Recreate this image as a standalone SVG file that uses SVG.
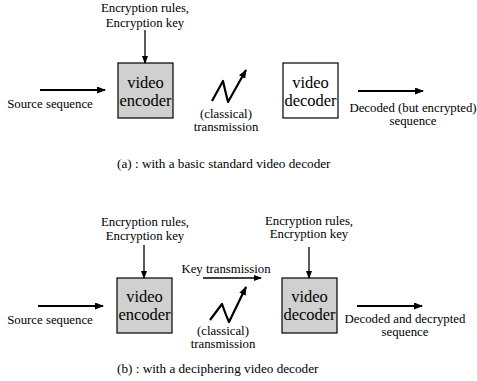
<svg xmlns="http://www.w3.org/2000/svg" width="477" height="381" viewBox="0 0 477 381" font-family="'Liberation Serif', 'Times New Roman', serif">
<style>
text{font-family:"Liberation Serif","Times New Roman",serif;fill:#000;}
.lbl{font-size:12.8px;text-anchor:middle;}
.box{font-size:16.5px;text-anchor:middle;}
.cap{font-size:13.2px;}
.enc{fill:#d0d0d0;stroke:#000;stroke-width:1.2;}
.dec{fill:#fff;stroke:#000;stroke-width:1.2;}
.thick{stroke:#000;stroke-width:2.2;fill:none;stroke-linejoin:round;}
.thin{stroke:#000;stroke-width:1.3;fill:none;}
</style>
<defs>
<marker id="ah" markerWidth="8" markerHeight="6" refX="7" refY="3" orient="auto" markerUnits="userSpaceOnUse">
<path d="M0,0 L8,3 L0,6 Z" fill="#000"/>
</marker>
<marker id="ahs" markerWidth="9" markerHeight="7" refX="8" refY="3.5" orient="auto" markerUnits="userSpaceOnUse">
<path d="M0,0 L9,3.5 L0,7 Z" fill="#000"/>
</marker>
</defs>

<g id="top-key-label">
<text class="lbl" x="145" y="12">Encryption rules,</text>
<text class="lbl" x="145" y="27">Encryption key</text>
</g>
<g id="top-encoder">
<rect class="enc" x="118" y="63" width="55" height="55"/>
<text class="box" x="145.5" y="88">video</text>
<text class="box" x="145.5" y="106">encoder</text>
</g>
<g id="top-source-label">
<text class="lbl" x="50" y="108">Source sequence</text>
</g>
<g id="top-transmission-label">
<text class="lbl" x="226" y="118">(classical)</text>
<text class="lbl" x="226" y="131">transmission</text>
</g>
<g id="top-decoder">
<rect class="dec" x="283" y="63" width="55" height="55"/>
<text class="box" x="310.5" y="88">video</text>
<text class="box" x="310.5" y="106">decoder</text>
</g>
<g id="top-output-label">
<text class="lbl" x="413" y="112">Decoded (but encrypted)</text>
<text class="lbl" x="413" y="125">sequence</text>
</g>
<text class="cap" x="117" y="168">(a) : with a basic standard video decoder</text>

<g id="bottom-key-label">
<text class="lbl" x="145" y="226">Encryption rules,</text>
<text class="lbl" x="145" y="240">Encryption key</text>
</g>
<g id="bottom-encoder">
<rect class="enc" x="117" y="278" width="55" height="55"/>
<text class="box" x="144.5" y="302">video</text>
<text class="box" x="144.5" y="320">encoder</text>
</g>
<g id="bottom-source-label">
<text class="lbl" x="50" y="324">Source sequence</text>
</g>
<g id="bottom-keytrans-label">
<text class="lbl" x="226" y="273">Key transmission</text>
</g>
<g id="bottom-transmission-label">
<text class="lbl" x="223" y="335">(classical)</text>
<text class="lbl" x="223" y="348">transmission</text>
</g>
<g id="bottom-dec-key-label">
<text class="lbl" x="309" y="225">Encryption rules,</text>
<text class="lbl" x="309" y="238">Encryption key</text>
</g>
<g id="bottom-decoder">
<rect class="enc" x="282" y="278" width="55" height="55"/>
<text class="box" x="309.5" y="302">video</text>
<text class="box" x="309.5" y="320">decoder</text>
</g>
<g id="bottom-output-label">
<text class="lbl" x="405" y="323">Decoded and decrypted</text>
<text class="lbl" x="405" y="336">sequence</text>
</g>
<text class="cap" x="117" y="373">(b) : with a deciphering video decoder</text>

<g id="connectors">
<line class="thin" x1="145" y1="30" x2="145" y2="63" marker-end="url(#ah)"/>
<line class="thick" x1="40" y1="90" x2="105" y2="90" marker-end="url(#ahs)"/>
<path class="thick" d="M212,101 L223,81 Q225,90 228,102 L246,70" marker-end="url(#ahs)"/>
<line class="thick" x1="358" y1="91" x2="423" y2="91" marker-end="url(#ahs)"/>

<line class="thin" x1="144" y1="245" x2="144" y2="278" marker-end="url(#ah)"/>
<line class="thick" x1="38" y1="306" x2="103" y2="306" marker-end="url(#ahs)"/>
<line class="thin" x1="203" y1="278" x2="261" y2="278" marker-end="url(#ah)"/>
<path class="thick" d="M210,320 L222,304 Q225,313 229,322 L246,287" marker-end="url(#ahs)"/>
<line class="thin" x1="309" y1="247" x2="309" y2="278" marker-end="url(#ah)"/>
<line class="thick" x1="357" y1="306" x2="422" y2="306" marker-end="url(#ahs)"/>
</g>
</svg>
